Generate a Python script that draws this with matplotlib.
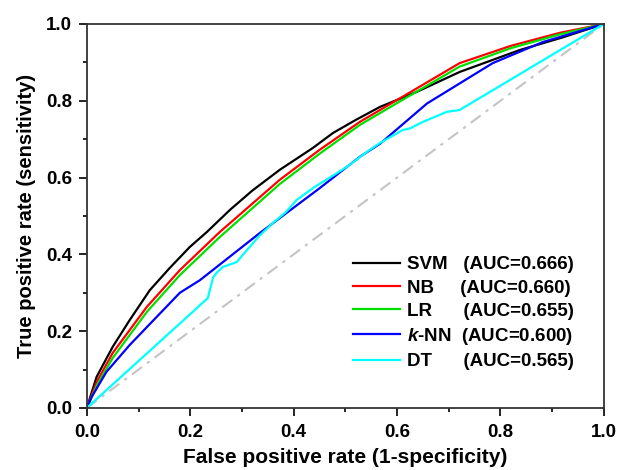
import matplotlib
matplotlib.use("Agg")
import matplotlib.pyplot as plt
from matplotlib.ticker import MultipleLocator

plt.rcParams['font.family'] = ['Liberation Sans', 'DejaVu Sans']
plt.rcParams['font.weight'] = 'bold'
plt.rcParams['mathtext.fontset'] = 'custom'
plt.rcParams['mathtext.it'] = 'Liberation Sans:italic:bold'
plt.rcParams['mathtext.rm'] = 'Liberation Sans:bold'

# ROC curves (FPR, TPR)
svm_fpr = [0, 0.019, 0.05, 0.083, 0.122, 0.16, 0.199, 0.232, 0.277, 0.32, 0.373, 0.437, 0.476,
           0.52, 0.567, 0.638, 0.721, 0.837, 0.92, 1.0]
svm_tpr = [0, 0.081, 0.159, 0.229, 0.307, 0.364, 0.419, 0.458, 0.516, 0.566, 0.62, 0.677, 0.716,
           0.75, 0.784, 0.823, 0.875, 0.932, 0.965, 1.0]

nb_fpr = [0, 0.02, 0.05, 0.116, 0.18, 0.257, 0.373, 0.45, 0.528, 0.6, 0.721, 0.82, 0.915, 1.0]
nb_tpr = [0, 0.07, 0.143, 0.263, 0.359, 0.458, 0.594, 0.672, 0.745, 0.802, 0.898, 0.943, 0.977, 1.0]

lr_fpr = [0, 0.02, 0.05, 0.116, 0.18, 0.257, 0.373, 0.45, 0.528, 0.6, 0.721, 0.82, 0.915, 1.0]
lr_tpr = [0, 0.06, 0.13, 0.25, 0.346, 0.445, 0.583, 0.662, 0.737, 0.794, 0.889, 0.937, 0.973, 1.0]

knn_fpr = [0, 0.01, 0.038, 0.083, 0.18, 0.219, 0.335, 0.45, 0.528, 0.567, 0.658, 0.785, 0.882, 1.0]
knn_tpr = [0, 0.03, 0.094, 0.164, 0.30, 0.333, 0.456, 0.572, 0.654, 0.688, 0.793, 0.898, 0.953, 1.0]

dt_fpr = [0, 0.234, 0.244, 0.251, 0.263, 0.29, 0.309, 0.335, 0.36, 0.385, 0.406, 0.44, 0.47,
          0.503, 0.547, 0.567, 0.611, 0.625, 0.65, 0.696, 0.721, 1.0]
dt_tpr = [0, 0.286, 0.339, 0.352, 0.367, 0.38, 0.41, 0.45, 0.482, 0.51, 0.542, 0.575, 0.60,
          0.628, 0.672, 0.69, 0.724, 0.728, 0.745, 0.771, 0.776, 1.0]

names = ['SVM', 'NB', 'LR', '$\\mathit{k}$-NN', 'DT']
aucs = [0.666, 0.660, 0.655, 0.600, 0.565]
pads = ['   ', '     ', '      ', '  ', '      ']
colors = ['black', 'red', '#00e000', 'blue', 'cyan']

fig, ax = plt.subplots(figsize=(6.2, 4.7), dpi=100)
fig.subplots_adjust(left=0.140, right=0.974, bottom=0.132, top=0.949)

ax.plot([0, 1], [0, 1], color='#c4c4c4', lw=1.5, dashes=(6, 3, 1.5, 3))

curves = [(svm_fpr, svm_tpr), (nb_fpr, nb_tpr), (lr_fpr, lr_tpr),
          (knn_fpr, knn_tpr), (dt_fpr, dt_tpr)]
for (fx, ty), name, auc, pad, c in zip(curves, names, aucs, pads, colors):
    ax.plot(fx, ty, color=c, lw=1.6, label=f'{name}{pad}(AUC={auc:.3f})')

ax.set_xlim(0, 1)
ax.set_ylim(0, 1)
ax.xaxis.set_major_locator(MultipleLocator(0.2))
ax.yaxis.set_major_locator(MultipleLocator(0.2))
ax.xaxis.set_minor_locator(MultipleLocator(0.1))
ax.yaxis.set_minor_locator(MultipleLocator(0.1))
ax.tick_params(which='major', direction='out', length=5.5, width=1.2, labelsize=13.5)
ax.tick_params(axis='x', which='major', pad=6)
ax.tick_params(axis='y', which='major', pad=5)
ax.tick_params(which='minor', direction='out', length=3, width=1.2)
for s in ax.spines.values():
    s.set_linewidth(1.3)
    s.set_color('#333333')

ax.set_xlabel('False positive rate (1-specificity)', fontsize=15, fontweight='bold', labelpad=5)
ax.set_ylabel('True positive rate (sensitivity)', fontsize=14.5, fontweight='bold', labelpad=7)

leg = ax.legend(loc='upper left', bbox_to_anchor=(0.5, 0.415), frameon=False, fontsize=13.5,
                handlelength=2.5, handletextpad=0.4, labelspacing=0.33, borderaxespad=0)
for t in leg.get_texts():
    t.set_fontweight('bold')

fig.savefig('out.png', dpi=100)
